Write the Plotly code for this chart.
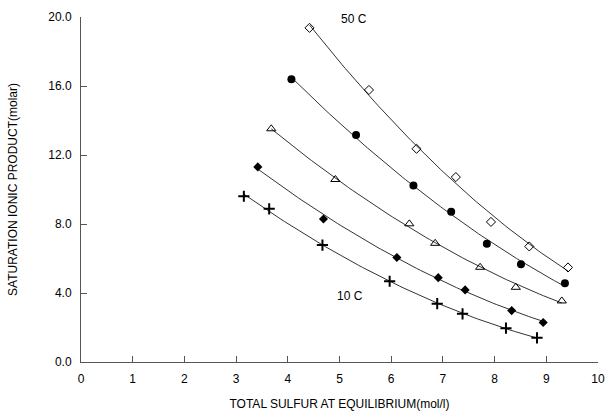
import numpy as np
import plotly.graph_objects as go

# Data
x_50c = [4.42, 5.57, 6.49, 7.25, 7.93, 8.67, 9.42]
y_50c = [19.37, 15.77, 12.36, 10.72, 8.12, 6.70, 5.48]

x_40c = [4.07, 5.32, 6.43, 7.16, 7.85, 8.51, 9.36]
y_40c = [16.39, 13.16, 10.23, 8.71, 6.86, 5.66, 4.57]

x_30c = [3.68, 4.92, 6.35, 6.85, 7.72, 8.41, 9.30]
y_30c = [13.52, 10.58, 8.01, 6.88, 5.49, 4.33, 3.54]

x_20c = [3.42, 4.69, 6.11, 6.91, 7.43, 8.33, 8.94]
y_20c = [11.31, 8.29, 6.06, 4.89, 4.18, 2.98, 2.29]

x_10c = [3.15, 3.64, 4.67, 5.97, 6.89, 7.38, 8.22, 8.82]
y_10c = [9.61, 8.88, 6.78, 4.68, 3.38, 2.79, 1.96, 1.40]

x_ticks = [0, 1, 2, 3, 4, 5, 6, 7, 8, 9, 10]
y_ticks = [0, 4, 8, 12, 16, 20]

label_50 = ("50 C", 5.28, 19.87)
label_10 = ("10 C", 5.21, 3.84)

FONT = "Liberation Sans, Arial, sans-serif"

series = [
    (x_50c, y_50c, dict(symbol="diamond-open", size=7, color="black", line=dict(width=1, color="black"))),
    (x_40c, y_40c, dict(symbol="circle", size=8, color="black")),
    (x_30c, y_30c, dict(symbol="triangle-up-open", size=8, color="black", line=dict(width=1, color="black"))),
    (x_20c, y_20c, dict(symbol="diamond", size=7, color="black")),
    (x_10c, y_10c, dict(symbol="cross-thin", size=8, color="black", line=dict(width=2, color="black"))),
]

fig = go.Figure()
for xs, ys, mk in series:
    # smooth regression curve (quadratic fit of the series) like the original
    coef = np.polyfit(xs, ys, 2)
    xf = np.linspace(min(xs), max(xs), 80)
    yf = np.polyval(coef, xf)
    fig.add_trace(go.Scatter(
        x=xf, y=yf, mode="lines",
        line=dict(color="#333333", width=1),
        showlegend=False, hoverinfo="skip",
    ))
    fig.add_trace(go.Scatter(
        x=xs, y=ys, mode="markers",
        marker=mk, showlegend=False, cliponaxis=False,
    ))

for txt, lx, ly in (label_50, label_10):
    fig.add_annotation(x=lx, y=ly, text=txt, showarrow=False,
                       font=dict(family=FONT, size=12, color="black"))

fig.update_layout(
    width=613, height=417,
    margin=dict(l=81, r=8, t=17, b=52),
    paper_bgcolor="white", plot_bgcolor="white",
    font=dict(family=FONT, size=12, color="black"),
)
fig.update_xaxes(
    range=[0, 10], tickvals=x_ticks, ticktext=[str(v) for v in x_ticks],
    showgrid=False, zeroline=False, showline=True, linecolor="#555555", linewidth=1,
    ticks="inside", ticklen=6, tickcolor="#555555", ticklabelstandoff=6,
    title=dict(text="TOTAL SULFUR AT EQUILIBRIUM(mol/l)", font=dict(size=12), standoff=14),
)
fig.update_yaxes(
    range=[0, 20], tickvals=y_ticks, ticktext=[f"{v:.1f}" for v in y_ticks],
    showgrid=False, zeroline=False, showline=True, linecolor="#555555", linewidth=1,
    ticks="inside", ticklen=6, tickcolor="#555555", ticklabelstandoff=6,
    title=dict(text="SATURATION IONIC PRODUCT(molar)", font=dict(size=12), standoff=28),
)

fig.write_html("out.html")
